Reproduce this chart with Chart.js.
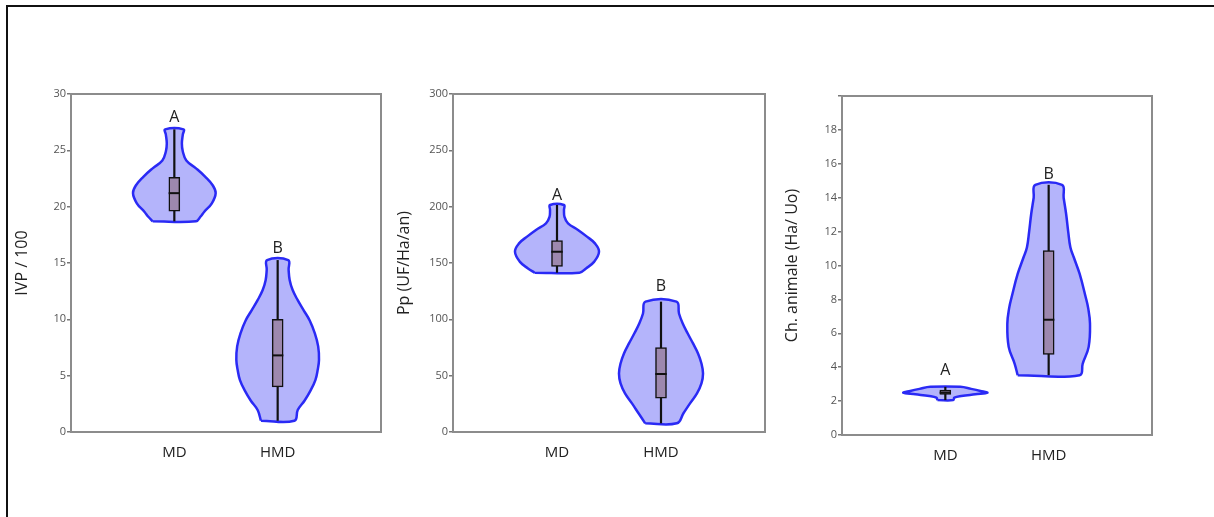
<!DOCTYPE html>
<html>
<head>
<meta charset="utf-8">
<script src="https://cdn.jsdelivr.net/npm/chart.js@4/dist/chart.umd.min.js"></script>
<style>
  html, body { margin: 0; padding: 0; background: #fff; }
  body { width: 1214px; height: 517px; position: relative; overflow: hidden; }
  #frame { position: absolute; left: 6px; top: 5px; right: 0; bottom: 0; border-top: 2px solid #111; border-left: 2px solid #111; }
  canvas { position: absolute; }
</style>
</head>
<body>
<div id="frame"></div>
<canvas id="ivp" width="390" height="420" style="left:10px;top:60px"></canvas>
<canvas id="pp" width="385" height="420" style="left:395px;top:60px"></canvas>
<canvas id="ch" width="400" height="420" style="left:780px;top:60px"></canvas>
<script>
const categories = ['MD', 'HMD']

// violin outlines: levels (y) and half widths (x units), bottom to top
const ivpMdLevels = [18.7, 19.1, 19.55, 20.3, 21.2, 21.9, 22.65, 23.4, 24.1, 24.9, 25.6, 26.4, 26.86]
const ivpMdWidth = [0.21, 0.252, 0.29, 0.363, 0.40, 0.371, 0.30, 0.21, 0.116, 0.082, 0.073, 0.082, 0.089]
const ivpHmdLevels = [1.0, 1.95, 2.8, 3.7, 4.6, 5.5, 6.4, 7.6, 8.8, 9.9, 10.8, 11.7, 12.6, 13.5, 14.4, 15.26]
const ivpHmdWidth = [0.162, 0.194, 0.261, 0.319, 0.365, 0.387, 0.40, 0.392, 0.358, 0.31, 0.252, 0.194, 0.145, 0.116, 0.106, 0.102]
// min, q1, median, q3, max
const ivpStats = [[18.7, 19.6, 21.2, 22.6, 26.86], [1.0, 4.0, 6.8, 10.0, 15.26]]
const ivpLetters = ['A', 'B']
const ivpLetterY = [27.9, 16.3]

const ppMdLevels = [141.4, 145.2, 151, 160, 167.4, 173.4, 179.3, 185.2, 191, 197, 201.5]
const ppMdWidth = [0.216, 0.279, 0.356, 0.404, 0.365, 0.288, 0.202, 0.106, 0.072, 0.067, 0.067]
const ppHmdLevels = [7.7, 16.6, 25.4, 34.3, 43.1, 52, 60.8, 69.7, 78.6, 87.4, 96.3, 105.2, 115.7]
const ppHmdWidth = [0.152, 0.216, 0.279, 0.346, 0.389, 0.404, 0.389, 0.356, 0.308, 0.257, 0.209, 0.173, 0.149]
const ppStats = [[141.4, 147, 160, 170, 201.5], [7.7, 30, 51.5, 75, 115.7]]
const ppLetters = ['A', 'B']
const ppLetterY = [210, 129]

const chMdLevels = [2.06, 2.2, 2.3, 2.4, 2.49, 2.6, 2.72, 2.84]
const chMdWidth = [0.077, 0.087, 0.155, 0.29, 0.407, 0.34, 0.25, 0.145]
const chHmdLevels = [3.53, 4.2, 5.2, 6.57, 7.5, 8.14, 9.5, 10.5, 11.08, 12.0, 13.04, 14.0, 14.76]
const chHmdWidth = [0.30, 0.329, 0.387, 0.40, 0.382, 0.358, 0.30, 0.242, 0.21, 0.189, 0.169, 0.145, 0.129]
const chStats = [[2.06, 2.4, 2.5, 2.65, 2.84], [3.53, 4.76, 6.8, 10.88, 14.76]]
const chLetters = ['A', 'B']
const chLetterY = [3.8, 15.4]

Chart.defaults.font.family = "'Open Sans', 'Noto Sans', sans-serif"
Chart.defaults.animation = false

const VIOLIN_FILL = '#b4b4fb'
const VIOLIN_LINE = '#2a2af5'
const BOX_FILL = '#9d88ae'

function violinPoints(center, levels, widths) {
  const left = levels.map((y, i) => ({ x: center - widths[i], y }))
  const right = levels.map((y, i) => ({ x: center + widths[i], y })).reverse()
  return [...left, ...right, left[0]]
}

function buildDatasets(violins, stats) {
  const sets = []
  violins.forEach(([levels, widths], i) => {
    const c = i + 1
    const s = stats[i]
    sets.push({
      type: 'line', data: violinPoints(c, levels, widths), fill: 'shape',
      backgroundColor: VIOLIN_FILL, borderColor: VIOLIN_LINE, borderWidth: 2.5,
      tension: 0.4, pointRadius: 0, order: 4
    })
    sets.push({
      type: 'line', data: [{ x: c, y: s[0] }, { x: c, y: s[4] }], fill: false,
      borderColor: '#111', borderWidth: 2.2, pointRadius: 0, tension: 0, order: 3
    })
    sets.push({
      type: 'line', data: [{ x: c - 0.055, y: s[2] }, { x: c + 0.055, y: s[2] }], fill: false,
      borderColor: '#111', borderWidth: 2, pointRadius: 0, tension: 0, order: 1
    })
  })
  sets.push({
    type: 'bar', data: stats.map((s, i) => ({ x: i + 1, y: [s[1], s[3]] })),
    backgroundColor: BOX_FILL, borderColor: '#111', borderWidth: 1.5,
    borderSkipped: false, barThickness: 11, order: 2
  })
  return sets
}

const framePlugin = {
  id: 'frame',
  afterDraw(chart) {
    const { ctx, chartArea: a } = chart
    ctx.save()
    ctx.strokeStyle = '#8c8c8c'
    ctx.lineWidth = 2
    ctx.strokeRect(a.left, a.top, a.right - a.left, a.bottom - a.top)
    ctx.restore()
  }
}

function lettersPlugin(letters, ys) {
  return {
    id: 'letters',
    afterDatasetsDraw(chart) {
      const { ctx, scales } = chart
      ctx.save()
      ctx.fillStyle = '#222'
      ctx.font = "16px 'Open Sans', 'Noto Sans', sans-serif"
      ctx.textAlign = 'center'
      ctx.textBaseline = 'middle'
      letters.forEach((l, i) => {
        ctx.fillText(l, scales.x.getPixelForValue(i + 1), scales.y.getPixelForValue(ys[i]))
      })
      ctx.restore()
    }
  }
}

function makePanel(id, cfg) {
  return new Chart(document.getElementById(id), {
    type: 'line',
    data: { datasets: buildDatasets(cfg.violins, cfg.stats) },
    options: {
      responsive: false,
      layout: { padding: cfg.padding },
      plugins: { legend: { display: false }, tooltip: { enabled: false } },
      scales: {
        x: {
          type: 'linear', min: 0, max: 3, offset: false,
          grid: { display: false, drawTicks: false },
          border: { display: false },
          afterBuildTicks: s => { s.ticks = [{ value: 1 }, { value: 2 }] },
          afterFit: s => { s.height = 40 },
          ticks: {
            padding: 12, color: '#222', font: { size: 15 },
            callback: v => categories[v - 1]
          }
        },
        y: {
          min: 0, max: cfg.max,
          grid: { display: true, drawOnChartArea: false, tickLength: 4, color: '#777', lineWidth: 1.5 },
          border: { display: false },
          afterFit: s => { s.width = cfg.axisWidth },
          ticks: {
            stepSize: cfg.step, padding: 1, color: '#555', font: { size: 11 },
            callback: v => (v > cfg.lastTick ? '' : v)
          },
          title: {
            display: true, text: cfg.title, color: '#222', font: { size: 16 },
            padding: { top: cfg.titlePad, bottom: 4 }
          }
        }
      }
    },
    plugins: [framePlugin, lettersPlugin(cfg.letters, cfg.letterY)]
  })
}

makePanel('ivp', {
  violins: [[ivpMdLevels, ivpMdWidth], [ivpHmdLevels, ivpHmdWidth]], stats: ivpStats,
  letters: ivpLetters, letterY: ivpLetterY, title: 'IVP / 100',
  max: 30, step: 5, lastTick: 30, axisWidth: 61, titlePad: 3,
  padding: { left: 0, right: 19, top: 34, bottom: 8 }
})
makePanel('pp', {
  violins: [[ppMdLevels, ppMdWidth], [ppHmdLevels, ppHmdWidth]], stats: ppStats,
  letters: ppLetters, letterY: ppLetterY, title: 'Pp (UF/Ha/an)',
  max: 300, step: 50, lastTick: 300, axisWidth: 58, titlePad: 0,
  padding: { left: 0, right: 15, top: 34, bottom: 8 }
})
makePanel('ch', {
  violins: [[chMdLevels, chMdWidth], [chHmdLevels, chHmdWidth]], stats: chStats,
  letters: chLetters, letterY: chLetterY, title: 'Ch. animale (Ha/ Uo)',
  max: 20, step: 2, lastTick: 18, axisWidth: 62, titlePad: 3,
  padding: { left: 0, right: 28, top: 36, bottom: 5 }
})
</script>
</body>
</html>
